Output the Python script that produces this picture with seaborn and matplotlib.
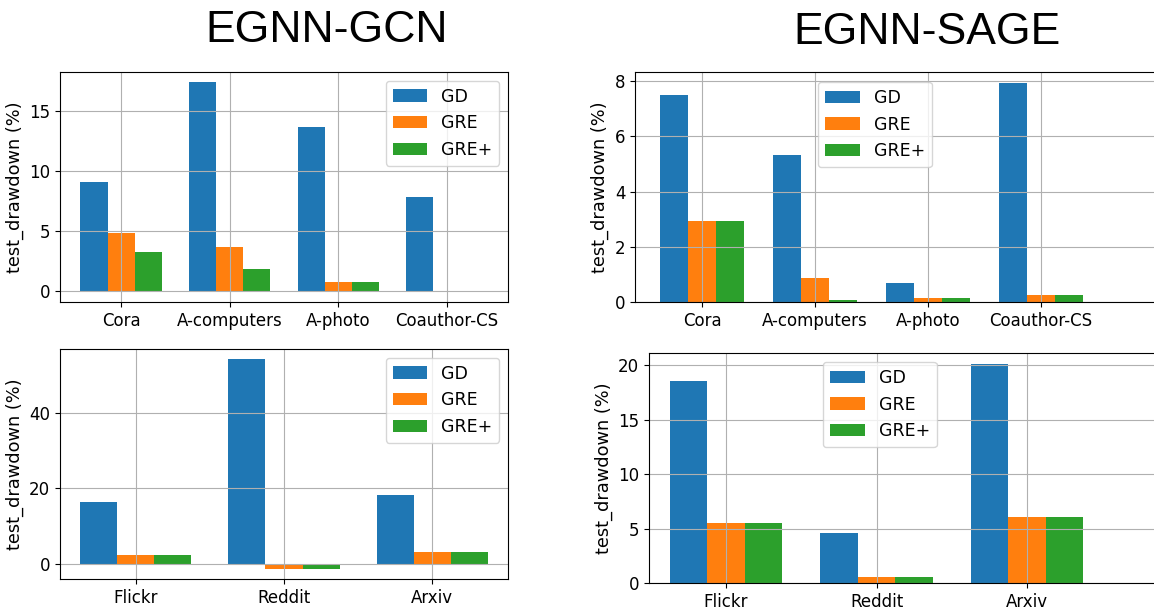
import matplotlib
matplotlib.use("Agg")
import matplotlib.pyplot as plt
import seaborn as sns
import pandas as pd

methods = ["GD", "GRE", "GRE+"]
small_sets = ["Cora", "A-computers", "A-photo", "Coauthor-CS"]
large_sets = ["Flickr", "Reddit", "Arxiv"]

# EGNN-GCN
gcn_small_gd = [9.07, 17.34, 13.67, 7.82]
gcn_small_gre = [4.81, 3.62, 0.72, -0.05]
gcn_small_grep = [3.23, 1.81, 0.72, -0.05]
gcn_large_gd = [16.5, 54.0, 18.3]
gcn_large_gre = [2.47, -1.15, 3.26]
gcn_large_grep = [2.47, -1.15, 3.26]

# EGNN-SAGE
sage_small_gd = [7.51, 5.33, 0.70, 7.94]
sage_small_gre = [2.94, 0.88, 0.16, 0.27]
sage_small_grep = [2.94, 0.06, 0.16, 0.27]
sage_large_gd = [18.56, 4.55, 20.12]
sage_large_gre = [5.47, 0.58, 6.02]
sage_large_grep = [5.47, 0.58, 6.02]

colors = ["#1f77b4", "#ff7f0e", "#2ca02c"]


def make_frame(names, gd, gre, grep):
    rows = []
    for m, vals in zip(methods, [gd, gre, grep]):
        for n, v in zip(names, vals):
            rows.append({"dataset": n, "method": m, "value": v})
    return pd.DataFrame(rows)


W, H = 1154, 612
fig = plt.figure(figsize=(W / 100, H / 100), dpi=100)


def px_axes(left, top, right, bottom):
    return fig.add_axes([left / W, 1 - bottom / H, (right - left) / W, (bottom - top) / H])


def draw(ax, df, names, xlim, legend_kw):
    sns.barplot(data=df, x="dataset", y="value", hue="method", order=names,
                hue_order=methods, palette=colors, saturation=1, width=0.75,
                errorbar=None, ax=ax)
    ax.set_xlim(*xlim)
    ax.set_xlabel("")
    ax.set_ylabel("test_drawdown (%)", fontsize=12.8)
    ax.tick_params(labelsize=12)
    ax.grid(True, color="#b0b0b0", linewidth=0.8)
    ax.set_axisbelow("line")
    ax.legend(fontsize=12.5, **legend_kw)


ax1 = px_axes(60, 72, 508, 302)
draw(ax1, make_frame(small_sets, gcn_small_gd, gcn_small_gre, gcn_small_grep),
     small_sets, (-0.5625, 3.5625), {"loc": "upper right"})

ax2 = px_axes(635, 72, 1160, 302)
draw(ax2, make_frame(small_sets, sage_small_gd, sage_small_gre, sage_small_grep),
     small_sets, (-0.593, -0.593 + 525 / 113),
     {"loc": "upper left", "bbox_to_anchor": (818 / W, 1 - 82 / H),
      "bbox_transform": fig.transFigure, "borderaxespad": 0})

ax3 = px_axes(60, 349, 508, 579)
draw(ax3, make_frame(large_sets, gcn_large_gd, gcn_large_gre, gcn_large_grep),
     large_sets, (-0.5125, 2.5125), {"loc": "upper right"})

ax4 = px_axes(649, 353, 1160, 583)
draw(ax4, make_frame(large_sets, sage_large_gd, sage_large_gre, sage_large_grep),
     large_sets, (-0.512, -0.512 + 511 / 150.5),
     {"loc": "upper left", "bbox_to_anchor": (823 / W, 1 - 362 / H),
      "bbox_transform": fig.transFigure, "borderaxespad": 0})

fig.text(327 / W, 1 - 31 / H, "EGNN-GCN", ha="center", va="center",
         family="Liberation Sans", fontsize=32)
fig.text(927 / W, 1 - 33 / H, "EGNN-SAGE", ha="center", va="center",
         family="Liberation Sans", fontsize=32)

fig.savefig("out.png", dpi=100)
